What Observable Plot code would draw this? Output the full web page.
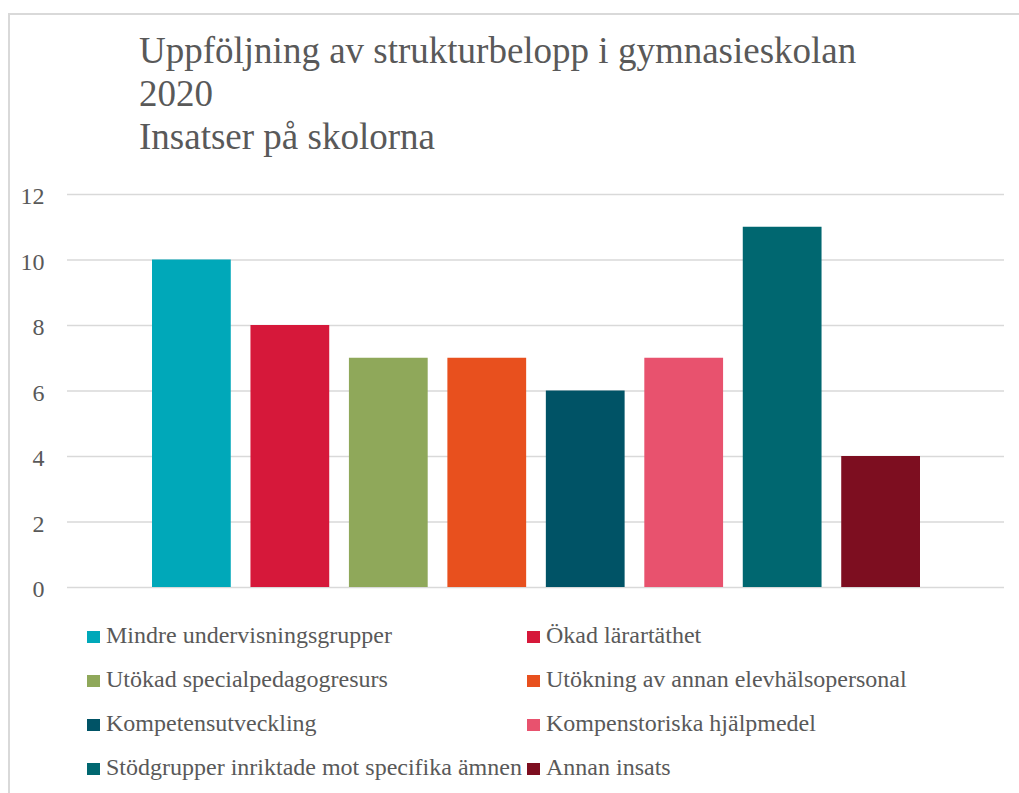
<!DOCTYPE html>
<html>
<head>
<meta charset="utf-8">
<script src="https://cdn.jsdelivr.net/npm/d3@7"></script>
<script src="https://cdn.jsdelivr.net/npm/@observablehq/plot@0.6"></script>
<style>
  html, body { margin: 0; padding: 0; background: #fff; }
  #wrap { position: relative; width: 1019px; height: 793px; overflow: hidden; font-family: "Liberation Serif", "Times New Roman", serif; color: #595959; }
  #frame { position: absolute; left: 8px; top: 13px; width: 1100px; height: 900px; border-left: 2px solid #d9d9d9; border-top: 2px solid #d9d9d9; box-sizing: border-box; }
  #title { position: absolute; left: 139px; top: 29px; font-size: 37px; line-height: 43px; white-space: nowrap; }
  #chart { position: absolute; left: 0; top: 0; }
  .leg { position: absolute; font-size: 24px; white-space: nowrap; line-height: 24px; }
  .sw { position: absolute; width: 13px; height: 12px; }
</style>
</head>
<body>
<div id="wrap">
  <div id="frame"></div>
  <div id="chart"></div>
  <div id="title">Uppföljning av strukturbelopp i gymnasieskolan<br>2020<br>Insatser på skolorna</div>
  <div id="legend"></div>
</div>
<script>
const series = [
  "Mindre undervisningsgrupper",
  "Ökad lärartäthet",
  "Utökad specialpedagogresurs",
  "Utökning av annan elevhälsopersonal",
  "Kompetensutveckling",
  "Kompenstoriska hjälpmedel",
  "Stödgrupper inriktade mot specifika ämnen",
  "Annan insats"
];
const values = [10, 8, 7, 7, 6, 7, 11, 4];
const colors = ["#00a8b9", "#d6183a", "#8fa85a", "#e8501e", "#005366", "#e8526e", "#006770", "#7d0e20"];
const yTicks = [0, 2, 4, 6, 8, 10, 12];

const data = series.map((s, i) => ({series: s, value: values[i]}));

const W = 1019, H = 793;
const chart = Plot.plot({
  width: W,
  height: H,
  marginLeft: 67,
  marginRight: 15,
  marginTop: 194,
  marginBottom: 206,
  style: {fontFamily: "'Liberation Serif', 'Times New Roman', serif", color: "#595959", background: "transparent"},
  x: {domain: series, range: [152, 920], paddingInner: 0.2, paddingOuter: 0, round: false, axis: null},
  y: {domain: [0, 12], axis: null},
  color: {domain: series, range: colors},
  marks: [
    Plot.ruleY(yTicks, {stroke: "#d9d9d9", strokeWidth: 1.5}),
    Plot.barY(data, {x: "series", y: "value", fill: "series"}),
    Plot.axisY({ticks: yTicks, tickSize: 0, tickPadding: 23, fontSize: 24, fill: "#595959", dy: 2, label: null})
  ]
});
document.getElementById("chart").appendChild(chart);

// Legend (2 columns x 4 rows)
const legend = document.getElementById("legend");
const colX = [87, 527];
const rowBase = [643, 687, 731, 775];
series.forEach((s, i) => {
  const c = i % 2, r = Math.floor(i / 2);
  const sw = document.createElement("div");
  sw.className = "sw";
  sw.style.background = colors[i];
  sw.style.left = colX[c] + "px";
  sw.style.top = (rowBase[r] - 12) + "px";
  legend.appendChild(sw);
  const t = document.createElement("div");
  t.className = "leg";
  t.textContent = s;
  t.style.left = (colX[c] + 19) + "px";
  t.style.top = (rowBase[r] - 20) + "px";
  legend.appendChild(t);
});
</script>
</body>
</html>
